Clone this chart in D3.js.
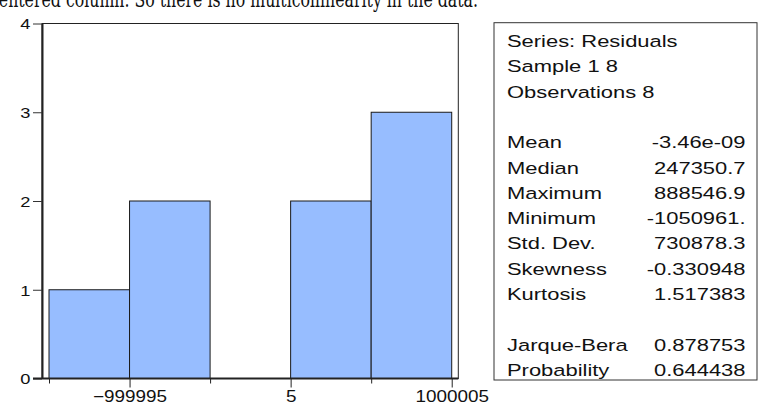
<!DOCTYPE html>
<html>
<head>
<meta charset="utf-8">
<script src="https://cdn.jsdelivr.net/npm/d3@7"></script>
<style>
  html, body { margin: 0; padding: 0; background: #fff; }
  svg { display: block; }
</style>
</head>
<body>
<svg id="chart" width="763" height="405"></svg>
<script>
// Histogram of regression residuals with summary statistics
const binEdges = [-1499995, -999995, -499995, 5, 500005, 1000005];
const binCounts = [1, 2, 0, 2, 3];
const yTicks = [0, 1, 2, 3, 4];
const xMajorTicks = [-999995, 5, 1000005];
const xMinorTicks = [-1499995, -499995, 500005];

const statNames = ["Series: Residuals", "Sample 1 8", "Observations 8", "",
  "Mean", "Median", "Maximum", "Minimum", "Std. Dev.", "Skewness", "Kurtosis", "",
  "Jarque-Bera", "Probability"];
const statValues = ["", "", "", "",
  "-3.46e-09", "247350.7", "888546.9", "-1050961.", "730878.3", "-0.330948", "1.517383", "",
  "0.878753", "0.644438"];

const svg = d3.select("#chart");
const FONT = "'Liberation Sans', Arial, sans-serif";

// caption line from the surrounding document
svg.append("text")
  .attr("x", -10).attr("y", 6.5)
  .attr("textLength", 488).attr("lengthAdjust", "spacingAndGlyphs")
  .style("font-family", "'DejaVu Serif', 'Liberation Serif', serif")
  .style("font-size", "22px").attr("fill", "#111")
  .text("centered column. So there is no multicollinearity in the data.");

const plot = { left: 42, right: 458.3, top: 23.5, bottom: 378.5 };
const binWidth = binEdges[1] - binEdges[0];
const pad = binWidth * 0.087;

const x = d3.scaleLinear()
  .domain([binEdges[0] - pad, binEdges[binEdges.length - 1] + pad * 0.94])
  .range([plot.left, plot.right]);
const y = d3.scaleLinear().domain([0, 4]).range([plot.bottom, plot.top]);

// bars
const bins = binCounts.map((c, i) => ({ x0: binEdges[i], x1: binEdges[i + 1], count: c }));
svg.append("g").selectAll("rect")
  .data(bins.filter(d => d.count > 0))
  .join("rect")
  .attr("x", d => x(d.x0))
  .attr("y", d => y(d.count))
  .attr("width", d => x(d.x1) - x(d.x0))
  .attr("height", d => y(0) - y(d.count))
  .attr("fill", "#97bdff")
  .attr("stroke", "#1a1a1a")
  .attr("stroke-width", 1);

// frame
svg.append("rect")
  .attr("x", plot.left).attr("y", plot.top)
  .attr("width", plot.right - plot.left).attr("height", plot.bottom - plot.top)
  .attr("fill", "none").attr("stroke", "#222").attr("stroke-width", 1);

// y axis
const yAxis = svg.append("g").attr("transform", `translate(${plot.left},0)`)
  .call(d3.axisLeft(y).tickValues(yTicks).tickSize(9).tickSizeOuter(0).tickFormat(d3.format("d")));
yAxis.select(".domain").attr("stroke", "#222").attr("stroke-width", 2);
yAxis.selectAll(".tick line").attr("stroke", "#333");
yAxis.selectAll(".tick text")
  .attr("x", null).attr("dy", "0.36em")
  .attr("transform", "translate(-11.5,0) scale(1.22,1)")
  .style("font-family", FONT).style("font-size", "15px").attr("fill", "#111");

// x axis: labelled ticks and short unlabelled ticks at the other bin edges
const xAxis = svg.append("g").attr("transform", `translate(0,${plot.bottom})`)
  .call(d3.axisBottom(x).tickValues(xMajorTicks).tickSize(9).tickSizeOuter(0).tickFormat(d3.format("d")));
xAxis.select(".domain").attr("stroke", "#222").attr("stroke-width", 2)
  .attr("d", `M${plot.left - 9},0H${plot.right}`);
xAxis.selectAll(".tick line").attr("stroke", "#222");
xAxis.selectAll(".tick text")
  .attr("y", null).attr("dy", null)
  .attr("transform", "translate(0,23.5) scale(1.18,1)")
  .style("font-family", FONT).style("font-size", "16px").attr("fill", "#111");

const xMinor = svg.append("g").attr("transform", `translate(0,${plot.bottom})`)
  .call(d3.axisBottom(x).tickValues(xMinorTicks).tickSize(5).tickSizeOuter(0).tickFormat(""));
xMinor.select(".domain").remove();
xMinor.selectAll(".tick line").attr("stroke", "#222");

// statistics box
const box = { left: 494, right: 757, top: 22.7, bottom: 380 };
svg.append("rect")
  .attr("x", box.left).attr("y", box.top)
  .attr("width", box.right - box.left).attr("height", box.bottom - box.top)
  .attr("fill", "#fff").attr("stroke", "#333").attr("stroke-width", 1);

const lineY = d3.scaleLinear().domain([0, statNames.length - 1]).range([47, 376]);
const rows = svg.append("g").selectAll("g")
  .data(statNames.map((n, i) => ({ name: n, value: statValues[i], i })))
  .join("g");
rows.append("text")
  .attr("transform", d => `translate(507,${lineY(d.i)}) scale(1.29,1)`)
  .style("font-family", FONT).style("font-size", "17px").attr("fill", "#111")
  .text(d => d.name);
rows.append("text")
  .attr("transform", d => `translate(745.5,${lineY(d.i)}) scale(1.29,1)`)
  .attr("text-anchor", "end")
  .style("font-family", FONT).style("font-size", "17px").attr("fill", "#111")
  .text(d => d.value);
</script>
</body>
</html>
